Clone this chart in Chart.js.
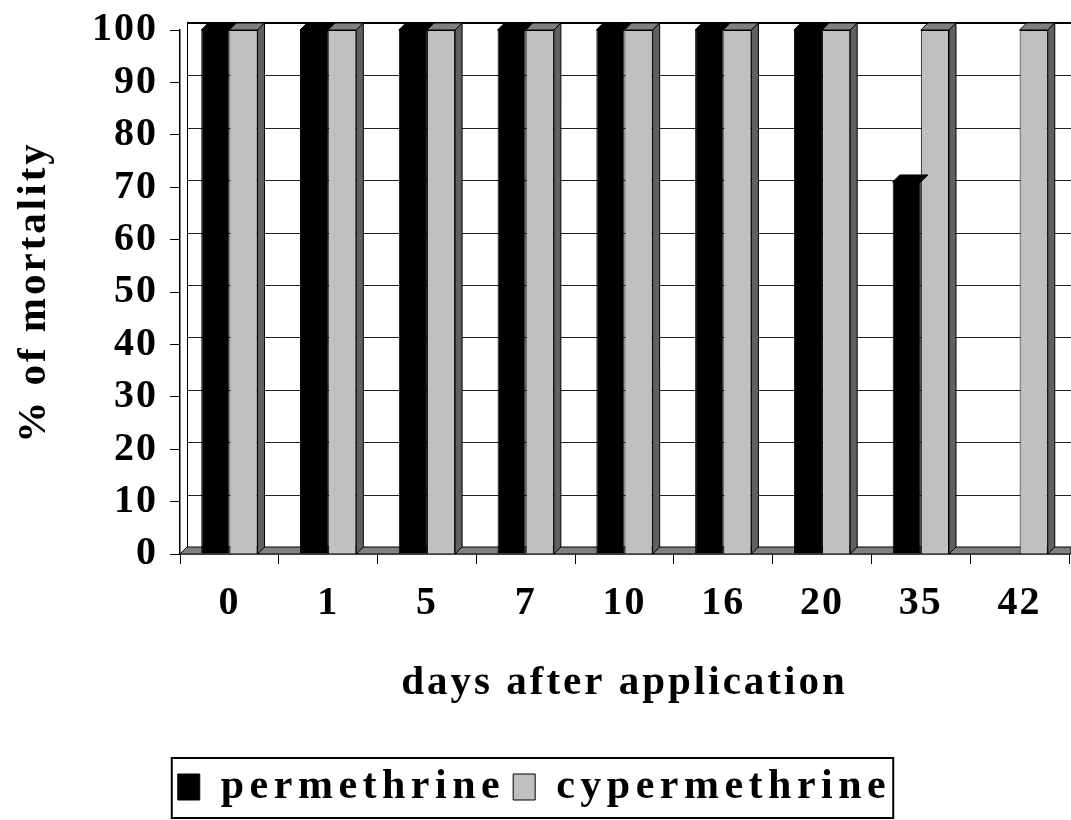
<!DOCTYPE html>
<html lang="en">
<head>
  <meta charset="UTF-8" />
  <title>% of mortality</title>
  <script src="https://cdn.jsdelivr.net/npm/chart.js"></script>
  <style>
    html, body { margin: 0; padding: 0; background: #fff; }
    .chart-box { width: 1071px; height: 820px; position: relative; }
  </style>
</head>
<body>
  <div class="chart-box"><canvas id="mortalityChart"></canvas></div>

  <script>
    const days = ['0', '1', '5', '7', '10', '16', '20', '35', '42'];
    const permethrine = [100, 100, 100, 100, 100, 100, 100, 71, 0];
    const cypermethrine = [100, 100, 100, 100, 100, 100, 100, 100, 100];
    const yMin = 0, yMax = 100, yStep = 10;

    const serif = "'Liberation Serif', 'Times New Roman', serif";
    const depth = 7;

    // the old chart stretches its bold serif text, so space letters out per font size
    const spacingBySize = { '40': 2, '41': 3, '42': 5.5 };
    const canvas = document.getElementById('mortalityChart');
    const c2d = canvas.getContext('2d');
    const spacingFor = font => {
      const m = /(\d+)px/.exec(font);
      return (m && spacingBySize[m[1]]) || 0;
    };
    const rawFill = c2d.fillText.bind(c2d);
    const rawMeasure = c2d.measureText.bind(c2d);
    c2d.fillText = (t, x, y, w) => {
      c2d.letterSpacing = spacingFor(c2d.font) + 'px';
      return w === undefined ? rawFill(t, x, y) : rawFill(t, x, y, w);
    };
    c2d.measureText = t => {
      c2d.letterSpacing = spacingFor(c2d.font) + 'px';
      return rawMeasure(t);
    };

    // back wall, floor and the faces of the 3d columns
    const threeD = {
      id: 'threeD',
      beforeDatasetsDraw(chart) {
        const { ctx, chartArea, scales: { y } } = chart;
        const base = y.getPixelForValue(0);
        ctx.save();
        ctx.strokeStyle = '#222';
        ctx.lineWidth = 1;
        for (let v = yMin + yStep; v <= yMax; v += yStep) {
          const py = Math.round(y.getPixelForValue(v) - depth) + 0.5;
          ctx.beginPath();
          ctx.moveTo(chartArea.left + depth, py);
          ctx.lineTo(chart.width, py);
          ctx.stroke();
        }
        ctx.lineWidth = 2;
        ctx.strokeStyle = '#000';
        ctx.beginPath();
        ctx.moveTo(chartArea.left + depth, y.getPixelForValue(yMax) - depth);
        ctx.lineTo(chart.width, y.getPixelForValue(yMax) - depth);
        ctx.stroke();
        ctx.lineWidth = 1;
        ctx.beginPath();
        ctx.moveTo(chartArea.left + depth + 0.5, y.getPixelForValue(yMax) - depth);
        ctx.lineTo(chartArea.left + depth + 0.5, base - depth);
        ctx.stroke();
        // floor
        ctx.fillStyle = '#808080';
        ctx.beginPath();
        ctx.moveTo(chartArea.left, base);
        ctx.lineTo(chart.width, base);
        ctx.lineTo(chart.width, base - depth);
        ctx.lineTo(chartArea.left + depth, base - depth);
        ctx.closePath();
        ctx.fill();
        ctx.stroke();
        ctx.restore();
      },
      afterDatasetsDraw(chart) {
        const { ctx, scales: { y } } = chart;
        const base = y.getPixelForValue(0);
        ctx.save();
        ctx.strokeStyle = '#000';
        ctx.lineWidth = 1;
        chart.data.datasets.forEach((ds, i) => {
          chart.getDatasetMeta(i).data.forEach((bar, j) => {
            if (!ds.data[j]) return;
            const x0 = bar.x - bar.width / 2, x1 = bar.x + bar.width / 2, top = bar.y;
            ctx.fillStyle = i === 0 ? '#000' : '#808080';
            ctx.beginPath();
            ctx.moveTo(x0, top);
            ctx.lineTo(x0 + depth, top - depth);
            ctx.lineTo(x1 + depth, top - depth);
            ctx.lineTo(x1, top);
            ctx.closePath();
            ctx.fill();
            ctx.stroke();
            if (i === 1) {
              ctx.fillStyle = '#606060';
              ctx.beginPath();
              ctx.moveTo(x1, top);
              ctx.lineTo(x1 + depth, top - depth);
              ctx.lineTo(x1 + depth, base - depth);
              ctx.lineTo(x1, base);
              ctx.closePath();
              ctx.fill();
              ctx.stroke();
            }
          });
        });
        ctx.restore();
      }
    };

    // frame round the legend
    const legendFrame = {
      id: 'legendFrame',
      afterDraw(chart) {
        const boxes = chart.legend.legendHitBoxes;
        if (!boxes.length) return;
        const left = Math.min(...boxes.map(b => b.left)) - 6;
        const right = Math.max(...boxes.map(b => b.left + b.width)) + 2;
        const { ctx } = chart;
        ctx.save();
        ctx.strokeStyle = '#000';
        ctx.lineWidth = 2;
        ctx.strokeRect(left, 758, right - left, 60);
        ctx.restore();
      }
    };

    new Chart(canvas, {
      type: 'bar',
      data: {
        labels: days,
        datasets: [
          {
            label: 'permethrine',
            data: permethrine,
            backgroundColor: '#000',
            borderColor: '#000',
            borderWidth: 1
          },
          {
            label: 'cypermethrine',
            data: cypermethrine,
            backgroundColor: '#c0c0c0',
            borderColor: '#000',
            borderWidth: 1
          }
        ]
      },
      options: {
        responsive: true,
        maintainAspectRatio: false,
        animation: false,
        categoryPercentage: 0.57,
        barPercentage: 1,
        layout: { padding: { top: 30, right: 2, bottom: 2, left: 0 } },
        plugins: {
          tooltip: { enabled: false },
          legend: {
            position: 'bottom',
            labels: {
              color: '#000',
              font: { family: serif, size: 42, weight: 'bold' },
              boxWidth: 22,
              boxHeight: 26,
              padding: 8
            }
          }
        },
        scales: {
          x: {
            afterFit: s => { s.height = 204; },
            grid: { offset: true, drawOnChartArea: false, tickLength: 10, color: '#000' },
            border: { color: '#000', width: 1.5 },
            ticks: {
              color: '#000',
              padding: 16,
              font: { family: serif, size: 40, weight: 'bold' }
            },
            title: {
              display: true,
              text: 'days after application',
              color: '#000',
              font: { family: serif, size: 41, weight: 'bold' },
              padding: { top: 0, bottom: 50 }
            }
          },
          y: {
            min: yMin,
            max: yMax,
            afterFit: s => { s.width = 180; s.paddingTop = 0; s.paddingBottom = 0; },
            grid: { drawOnChartArea: false, tickLength: 10, color: '#000' },
            border: { color: '#000', width: 1.5 },
            ticks: {
              stepSize: yStep,
              color: '#000',
              padding: 12,
              font: { family: serif, size: 40, weight: 'bold' }
            },
            title: {
              display: true,
              text: '% of mortality',
              color: '#000',
              font: { family: serif, size: 41, weight: 'bold' },
              padding: { top: 10, bottom: 0 }
            }
          }
        }
      },
      plugins: [threeD, legendFrame]
    });
  </script>
</body>
</html>
